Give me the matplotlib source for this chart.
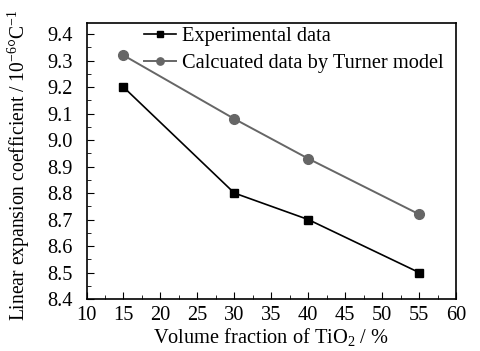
import matplotlib
matplotlib.use('Agg')
import matplotlib.pyplot as plt
from matplotlib.ticker import MultipleLocator

plt.rcParams['font.family'] = ['Liberation Serif', 'DejaVu Serif']
plt.rcParams['mathtext.fontset'] = 'custom'
plt.rcParams['mathtext.rm'] = 'Liberation Serif'
plt.rcParams['mathtext.it'] = 'Liberation Serif:italic'

#%% data
tio2 = [15, 30, 40, 55]
experimental = [9.20, 8.80, 8.70, 8.50]
turner = [9.32, 9.08, 8.93, 8.72]

fs = 14.7

#%% plot
fig = plt.figure(figsize=(4.8, 3.51), dpi=100)
ax = fig.add_axes([86.5/480, 1 - 299/351, (456 - 86.5)/480, (299 - 22.7)/351])

ax.plot(tio2, experimental, color='black', marker='s', markersize=6, lw=1.2,
        label='Experimental data')
ax.plot(tio2, turner, color='#666666', marker='o', markersize=7, lw=1.4,
        label='Calcuated data by Turner model')

ax.set_xlim(10, 60)
ax.set_ylim(8.4, 9.443)
ax.xaxis.set_major_locator(MultipleLocator(5))
ax.xaxis.set_minor_locator(MultipleLocator(2.5))
ax.yaxis.set_major_locator(MultipleLocator(0.1))
ax.yaxis.set_minor_locator(MultipleLocator(0.05))
ax.yaxis.set_major_formatter(matplotlib.ticker.FormatStrFormatter('%.1f'))
ax.tick_params(which='both', direction='in', labelsize=fs)
ax.tick_params(axis='x', pad=5)
ax.tick_params(axis='y', pad=10)
ax.tick_params(which='major', length=5)
ax.tick_params(which='minor', length=3)
for s in ax.spines.values():
    s.set_linewidth(1.2)

ax.set_xlabel('Volume fraction of TiO$_2$ / %', fontsize=fs, labelpad=1)
ax.set_ylabel('Linear expansion coefficient / 10$^{-6}$°C$^{-1}$', fontsize=14.1)
ax.yaxis.set_label_coords(-0.148, 0.484)

ax.legend(loc='upper left', bbox_to_anchor=(0.105, 1.052), frameon=False,
          fontsize=fs, handlelength=1.6, handletextpad=0.3, labelspacing=0.37,
          markerscale=0.75)

plt.savefig('out.png', dpi=100)
